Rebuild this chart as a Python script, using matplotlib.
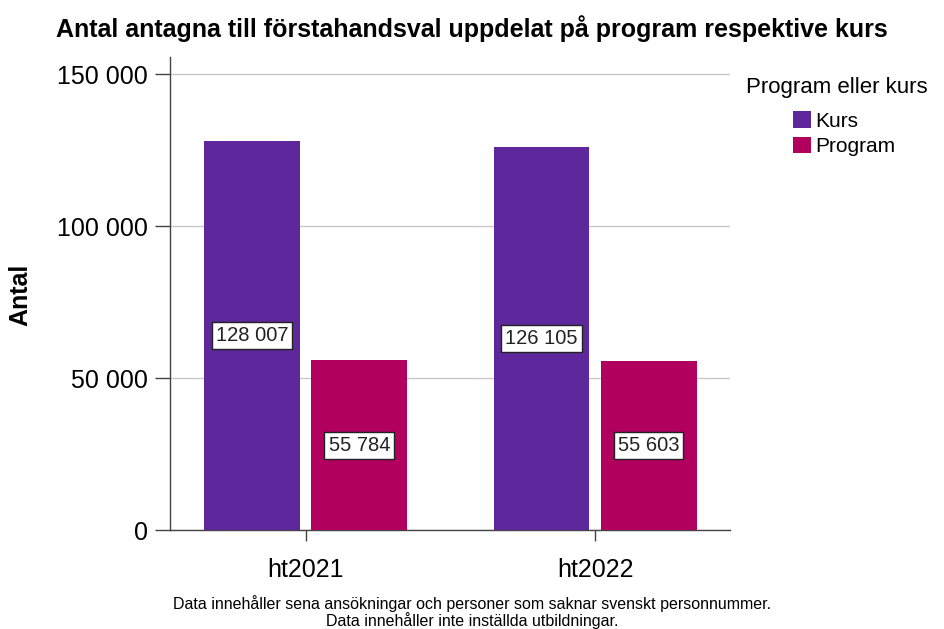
import matplotlib
matplotlib.use("Agg")
import matplotlib.pyplot as plt
from matplotlib import font_manager
import numpy as np

categories = ["ht2021", "ht2022"]
series_names = ["Kurs", "Program"]
kurs = [128007, 126105]
program = [55784, 55603]
colors = ["#5F279C", "#B1005D"]
yticks = [0, 50000, 100000, 150000]

names = {f.name for f in font_manager.fontManager.ttflist}
base = "Liberation Sans" if "Liberation Sans" in names else "DejaVu Sans"
plt.rcParams["font.family"] = [base, "DejaVu Sans"]

def fmt(v):
    return f"{v:,}".replace(",", " ")

fig = plt.figure(figsize=(9.44, 6.29), dpi=100)
ax = fig.add_axes([170/944, 1-530/629, (730-170)/944, (530-57)/629])

x = np.arange(len(categories))
w = 0.331
off = 0.185
for vals, name, c, o in [(kurs, series_names[0], colors[0], -off), (program, series_names[1], colors[1], off)]:
    ax.bar(x + o, vals, width=w, color=c, label=name, zorder=3)
    for xi, v in zip(x + o, vals):
        ax.text(xi, v/2, fmt(v), ha="center", va="center", fontsize=14.5, color="#222222",
                bbox=dict(boxstyle="square,pad=0.2", fc="white", ec="#222222", lw=1.0), zorder=4)

ax.set_xlim(-0.469, 1.466)
ax.set_ylim(0, 155600)
ax.set_yticks(yticks)
ax.set_yticklabels([fmt(v) for v in yticks], fontsize=18)
ax.set_xticks(x)
ax.set_xticklabels(categories, fontsize=18)
ax.tick_params(axis="y", length=11, width=1, color="#444444", pad=5)
ax.tick_params(axis="x", length=8, width=1, color="#444444", pad=12)
ax.yaxis.grid(True, color="#c8c8c8", lw=1, zorder=0)
for s in ["top", "right"]:
    ax.spines[s].set_visible(False)
for s in ["left", "bottom"]:
    ax.spines[s].set_color("#444444")
    ax.spines[s].set_linewidth(1)
ax.set_ylabel("Antal", fontsize=18, fontweight="bold")
ax.yaxis.set_label_coords(-0.246, 0.497)

fig.text(0.5, 0.955, "Antal antagna till förstahandsval uppdelat på program respektive kurs",
         ha="center", va="center", fontsize=18, fontweight="bold")

fig.text(746/944, 1-88/629, "Program eller kurs", ha="left", va="center", fontsize=16)
fig.legend(loc="upper left", bbox_to_anchor=(793/944, 1-111/629), frameon=False,
           fontsize=15, handlelength=0.85, handleheight=0.85, handletextpad=0.2,
           labelspacing=0.3, borderpad=0, borderaxespad=0)

fig.text(0.5, 1-612/629,
         "Data innehåller sena ansökningar och personer som saknar svenskt personnummer.\n"
         "Data innehåller inte inställda utbildningar.",
         ha="center", va="center", fontsize=11.5, linespacing=0.95)

fig.savefig("out.png", dpi=100)
